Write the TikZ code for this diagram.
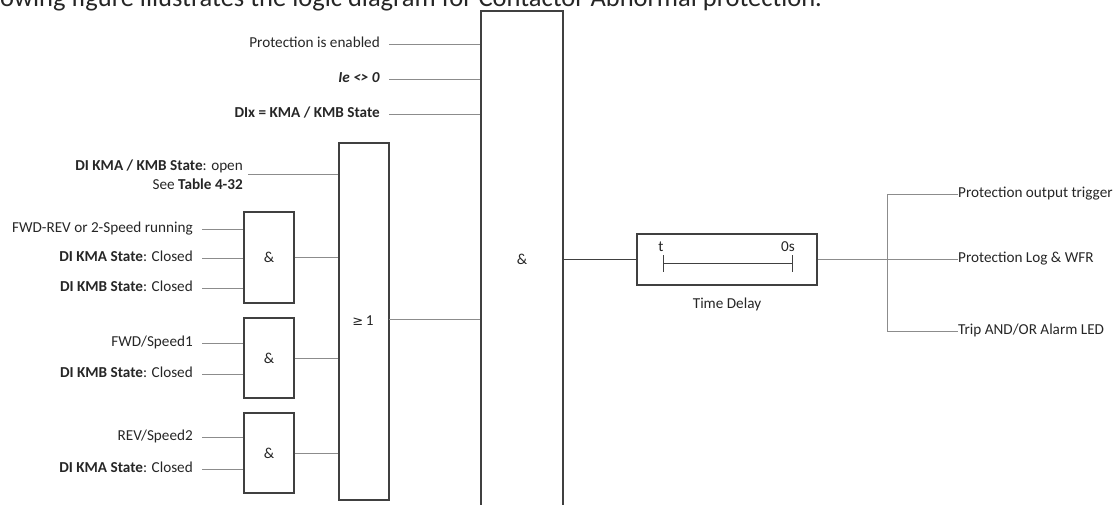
\documentclass[tikz,border=0pt]{standalone}
\usepackage{fontspec}
\setmainfont{Carlito}
\newfontfamily\symfont{DejaVu Sans}
\definecolor{txtc}{HTML}{262626}
\definecolor{boxc}{HTML}{404040}
\definecolor{linec}{HTML}{8C8C8C}
\begin{document}
\begin{tikzpicture}[x=1pt,y=-1pt,
  lbl/.style={font=\fontsize{15.2}{18.5}\selectfont, text=txtc, inner sep=0pt, text height=0.72em, text depth=0.06em},
  inlbl/.style={lbl, anchor=east},
  outlbl/.style={lbl, anchor=west},
  gate/.style={draw=boxc, line width=1.2pt, fill=white, minimum width=50pt, inner sep=0pt, font=\fontsize{15.2}{18.5}\selectfont, text=txtc},
  wire/.style={draw=linec, line width=0.9pt},
  mainwire/.style={draw=boxc, line width=1.3pt}]
\useasboundingbox (0,0) rectangle (1118,504);
% caption (cropped at top)
\node[anchor=base west, inner sep=0pt, text=txtc, font=\fontsize{26.5}{30}\selectfont] (cap) at (0,6.5) {owing figure illustrates the logic diagram for Contactor Abnormal protection.};
% gates
\node[gate, minimum width=82pt, minimum height=515pt] (bigand) at (522,268.5) {};
\node[lbl] (biglbl) at (522,261) {\&};
\node[gate, minimum height=357pt] (or) at (364,321.5) {};
\node[lbl] (orlbl) at (363,322) {{\symfont\fontsize{13}{15}\selectfont ≥}\,1};
\node[gate, minimum height=91pt] (and1) at (269,257.5) {\&};
\node[gate, minimum height=80pt] (and2) at (269,358) {\&};
\node[gate, minimum height=80pt] (and3) at (269,453) {\&};
% top inputs
\node[inlbl] (i1) at (380,44.5) {Protection is enabled};
\node[inlbl] (i2) at (380,79) {\textbf{\textit{Ie <> 0}}};
\node[inlbl] (i3) at (380,114) {\textbf{DIx = KMA / KMB State}};
\coordinate (i1e) at (389,44.5);
\coordinate (i2e) at (389,79);
\coordinate (i3e) at (389,114);
\draw[wire] (i1e) -- (i1e -| bigand.west);
\draw[wire] (i2e) -- (i2e -| bigand.west);
\draw[wire] (i3e) -- (i3e -| bigand.west);
% OR inputs
\node[lbl, anchor=east, align=right, text height=, text depth=] (o0) at (243,174.5) {\textbf{DI KMA / KMB State}: open\\See \textbf{Table 4-32}};
\coordinate (o0e) at (248,174);
\draw[wire] (o0e) -- (o0e -| or.west);
% AND1 inputs
\node[inlbl] (a11) at (193,229) {FWD-REV or 2-Speed running};
\node[inlbl] (a12) at (193,258) {\textbf{DI KMA State}: Closed};
\node[inlbl] (a13) at (193,288) {\textbf{DI KMB State}: Closed};
\foreach \n in {a11,a12,a13} {\draw[wire] ([xshift=9pt]\n.east) -- (\n.east -| and1.west);}
% AND2 inputs
\node[inlbl] (a21) at (193,343) {FWD/Speed1};
\node[inlbl] (a22) at (193,374) {\textbf{DI KMB State}: Closed};
\foreach \n in {a21,a22} {\draw[wire] ([xshift=9pt]\n.east) -- (\n.east -| and2.west);}
% AND3 inputs
\node[inlbl] (a31) at (193,437) {REV/Speed2};
\node[inlbl] (a32) at (193,469) {\textbf{DI KMA State}: Closed};
\foreach \n in {a31,a32} {\draw[wire] ([xshift=9pt]\n.east) -- (\n.east -| and3.west);}
% gate outputs into OR
\draw[wire] (and1.east) -- (and1.east -| or.west);
\draw[wire] (and2.east) -- (and2.east -| or.west);
\draw[wire] (and3.east) -- (and3.east -| or.west);
\coordinate (ore) at (389,319);
\draw[wire] (ore) -- (ore -| bigand.west);
% time delay
\node[gate, minimum width=180pt, minimum height=51pt] (delay) at (727,259.5) {};
\draw[mainwire] (delay.west) -- (delay.west -| bigand.east);
\node[lbl, anchor=center] (tl) at (661,248) {t};
\node[lbl, anchor=center] (zl) at (788,248) {0s};
\draw[draw=boxc, line width=0.7pt] (663,263) -- (792,263) (663,255) -- (663,272) (792,255) -- (792,272);
\node[lbl] (tdl) at (727,305) {Time Delay};
% outputs
\node[outlbl] (q1) at (958,194) {Protection output trigger};
\node[outlbl] (q2) at (958,259.5) {Protection Log \& WFR};
\node[outlbl] (q3) at (958,331) {Trip AND/OR Alarm LED};
\coordinate (bus) at (887,259.5);
\draw[wire] (delay.east) -- (q2.west);
\draw[wire] (q1.west) -| (bus) |- (q3.west);
\end{tikzpicture}
\end{document}
